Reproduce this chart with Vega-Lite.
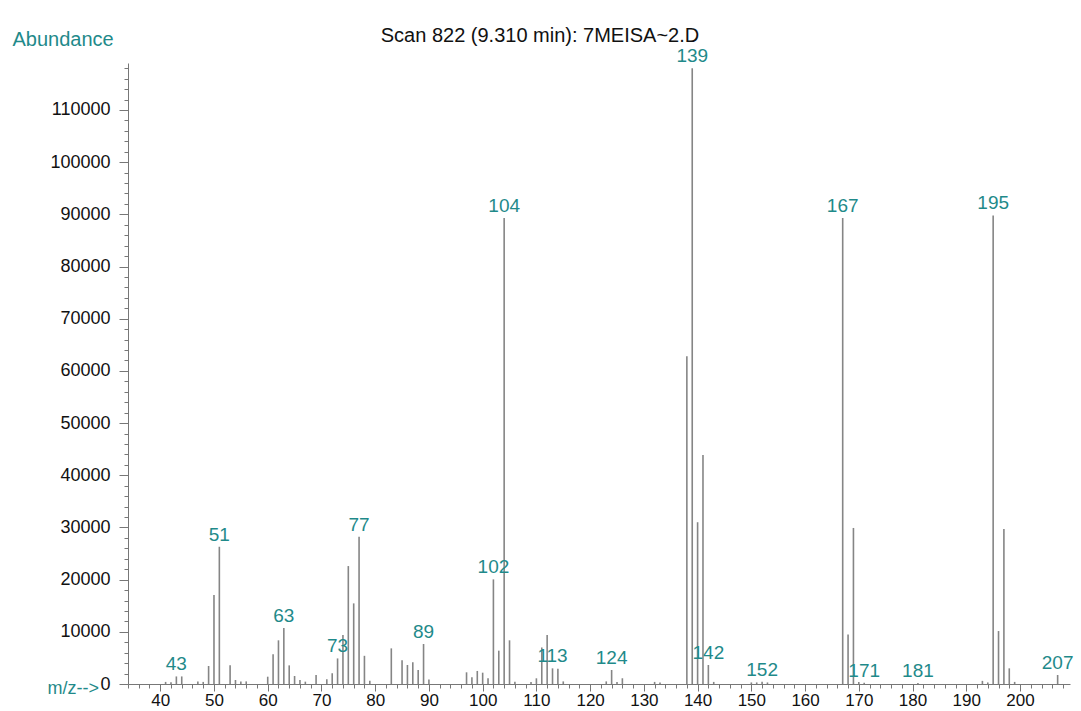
{
  "$schema": "https://vega.github.io/schema/vega-lite/v6.json",
  "width": 942,
  "height": 621,
  "autosize": {"type": "none"},
  "padding": {"left": 128, "top": 63, "right": 11, "bottom": 27},
  "background": "white",
  "config": {"view": {"stroke": null}, "font": "Liberation Sans"},
  "title": {
    "text": "Scan 822 (9.310 min): 7MEISA~2.D",
    "anchor": "middle",
    "frame": "group",
    "dx": -59,
    "dy": 45,
    "fontSize": 20,
    "fontWeight": "normal",
    "color": "#111111",
    "baseline": "alphabetic",
    "offset": 12
  },
  "data": {
    "values": [
      {"mz": 41, "abundance": 400, "labeled": false},
      {"mz": 42, "abundance": 350, "labeled": false},
      {"mz": 43, "abundance": 1450, "labeled": true},
      {"mz": 44, "abundance": 1450, "labeled": false},
      {"mz": 47, "abundance": 500, "labeled": false},
      {"mz": 48, "abundance": 400, "labeled": false},
      {"mz": 49, "abundance": 3450, "labeled": false},
      {"mz": 50, "abundance": 17050, "labeled": false},
      {"mz": 51, "abundance": 26300, "labeled": true},
      {"mz": 53, "abundance": 3570, "labeled": false},
      {"mz": 54, "abundance": 770, "labeled": false},
      {"mz": 55, "abundance": 500, "labeled": false},
      {"mz": 56, "abundance": 500, "labeled": false},
      {"mz": 60, "abundance": 1400, "labeled": false},
      {"mz": 61, "abundance": 5680, "labeled": false},
      {"mz": 62, "abundance": 8370, "labeled": false},
      {"mz": 63, "abundance": 10750, "labeled": true},
      {"mz": 64, "abundance": 3570, "labeled": false},
      {"mz": 65, "abundance": 1530, "labeled": false},
      {"mz": 66, "abundance": 770, "labeled": false},
      {"mz": 67, "abundance": 450, "labeled": false},
      {"mz": 69, "abundance": 1720, "labeled": false},
      {"mz": 71, "abundance": 900, "labeled": false},
      {"mz": 72, "abundance": 2040, "labeled": false},
      {"mz": 73, "abundance": 4900, "labeled": true},
      {"mz": 74, "abundance": 9400, "labeled": false},
      {"mz": 75, "abundance": 22600, "labeled": false},
      {"mz": 76, "abundance": 15450, "labeled": false},
      {"mz": 77, "abundance": 28200, "labeled": true},
      {"mz": 78, "abundance": 5400, "labeled": false},
      {"mz": 79, "abundance": 600, "labeled": false},
      {"mz": 83, "abundance": 6830, "labeled": false},
      {"mz": 85, "abundance": 4550, "labeled": false},
      {"mz": 86, "abundance": 3640, "labeled": false},
      {"mz": 87, "abundance": 4150, "labeled": false},
      {"mz": 88, "abundance": 2680, "labeled": false},
      {"mz": 89, "abundance": 7660, "labeled": true},
      {"mz": 90, "abundance": 850, "labeled": false},
      {"mz": 97, "abundance": 2240, "labeled": false},
      {"mz": 98, "abundance": 1280, "labeled": false},
      {"mz": 99, "abundance": 2500, "labeled": false},
      {"mz": 100, "abundance": 2170, "labeled": false},
      {"mz": 101, "abundance": 1090, "labeled": false},
      {"mz": 102, "abundance": 20050, "labeled": true},
      {"mz": 103, "abundance": 6390, "labeled": false},
      {"mz": 104, "abundance": 89300, "labeled": true},
      {"mz": 105, "abundance": 8370, "labeled": false},
      {"mz": 106, "abundance": 450, "labeled": false},
      {"mz": 109, "abundance": 400, "labeled": false},
      {"mz": 110, "abundance": 1090, "labeled": false},
      {"mz": 111, "abundance": 7000, "labeled": false},
      {"mz": 112, "abundance": 9390, "labeled": false},
      {"mz": 113, "abundance": 3000, "labeled": true},
      {"mz": 114, "abundance": 2900, "labeled": false},
      {"mz": 115, "abundance": 500, "labeled": false},
      {"mz": 123, "abundance": 500, "labeled": false},
      {"mz": 124, "abundance": 2680, "labeled": true},
      {"mz": 125, "abundance": 400, "labeled": false},
      {"mz": 126, "abundance": 1100, "labeled": false},
      {"mz": 132, "abundance": 400, "labeled": false},
      {"mz": 133, "abundance": 300, "labeled": false},
      {"mz": 138, "abundance": 62800, "labeled": false},
      {"mz": 139, "abundance": 118000, "labeled": true},
      {"mz": 140, "abundance": 31000, "labeled": false},
      {"mz": 141, "abundance": 43900, "labeled": false},
      {"mz": 142, "abundance": 3640, "labeled": true},
      {"mz": 143, "abundance": 400, "labeled": false},
      {"mz": 150, "abundance": 300, "labeled": false},
      {"mz": 151, "abundance": 300, "labeled": false},
      {"mz": 152, "abundance": 450, "labeled": true},
      {"mz": 153, "abundance": 300, "labeled": false},
      {"mz": 167, "abundance": 89300, "labeled": true},
      {"mz": 168, "abundance": 9500, "labeled": false},
      {"mz": 169, "abundance": 29900, "labeled": false},
      {"mz": 170, "abundance": 400, "labeled": false},
      {"mz": 171, "abundance": 250, "labeled": true},
      {"mz": 181, "abundance": 200, "labeled": true},
      {"mz": 193, "abundance": 600, "labeled": false},
      {"mz": 194, "abundance": 300, "labeled": false},
      {"mz": 195, "abundance": 89800, "labeled": true},
      {"mz": 196, "abundance": 10150, "labeled": false},
      {"mz": 197, "abundance": 29700, "labeled": false},
      {"mz": 198, "abundance": 3000, "labeled": false},
      {"mz": 199, "abundance": 400, "labeled": false},
      {"mz": 207, "abundance": 1720, "labeled": true}
    ]
  },
  "encoding": {
    "x": {
      "field": "mz",
      "type": "quantitative",
      "scale": {"domain": [34, 209.3], "nice": false, "zero": false},
      "axis": {
        "title": "m/z-->",
        "titleAngle": 0,
        "titleAlign": "left",
        "titleBaseline": "middle",
        "titleX": -81,
        "titleY": 4,
        "titleColor": "#1f8a8a",
        "titleFontSize": 18,
        "titleFontWeight": "normal",
        "values": [34,36,38,40,42,44,46,48,50,52,54,56,58,60,62,64,66,68,70,72,74,76,78,80,82,84,86,88,90,92,94,96,98,100,102,104,106,108,110,112,114,116,118,120,122,124,126,128,130,132,134,136,138,140,142,144,146,148,150,152,154,156,158,160,162,164,166,168,170,172,174,176,178,180,182,184,186,188,190,192,194,196,198,200,202,204,206,208],
        "labelExpr": "datum.value % 10 == 0 ? format(datum.value, 'd') : ''",
        "tickSize": {"condition": {"test": "datum.value % 10 == 0", "value": 7}, "value": 4},
        "labelPadding": 1,
        "labelFontSize": 17,
        "labelColor": "#111111",
        "labelFlush": false,
        "labelOverlap": false,
        "domainColor": "#777777",
        "tickColor": "#777777",
        "grid": false
      }
    },
    "y": {
      "field": "abundance",
      "type": "quantitative",
      "scale": {"domain": [0, 119000], "nice": false},
      "axis": {
        "title": "Abundance",
        "titleAngle": 0,
        "titleAlign": "left",
        "titleBaseline": "middle",
        "titleX": -116,
        "titleY": -24,
        "titleColor": "#1f8a8a",
        "titleFontSize": 20,
        "titleFontWeight": "normal",
        "values": [0,2000,4000,6000,8000,10000,12000,14000,16000,18000,20000,22000,24000,26000,28000,30000,32000,34000,36000,38000,40000,42000,44000,46000,48000,50000,52000,54000,56000,58000,60000,62000,64000,66000,68000,70000,72000,74000,76000,78000,80000,82000,84000,86000,88000,90000,92000,94000,96000,98000,100000,102000,104000,106000,108000,110000,112000,114000,116000,118000],
        "labelExpr": "datum.value % 10000 == 0 ? format(datum.value, 'd') : ''",
        "tickSize": {"condition": {"test": "datum.value % 10000 == 0", "value": 9}, "value": 4},
        "labelPadding": 9,
        "labelFontSize": 18,
        "labelColor": "#111111",
        "labelFlush": false,
        "labelOverlap": false,
        "domainColor": "#777777",
        "tickColor": "#777777",
        "grid": false
      }
    }
  },
  "layer": [
    {
      "mark": {"type": "rule", "color": "#858585", "strokeWidth": 1.6},
      "encoding": {"y2": {"datum": 0}}
    },
    {
      "transform": [{"filter": "datum.labeled"}],
      "mark": {"type": "text", "color": "#1f8a8a", "fontSize": 19, "baseline": "bottom", "dy": -2},
      "encoding": {"text": {"field": "mz", "type": "quantitative", "format": "d"}}
    }
  ]
}
